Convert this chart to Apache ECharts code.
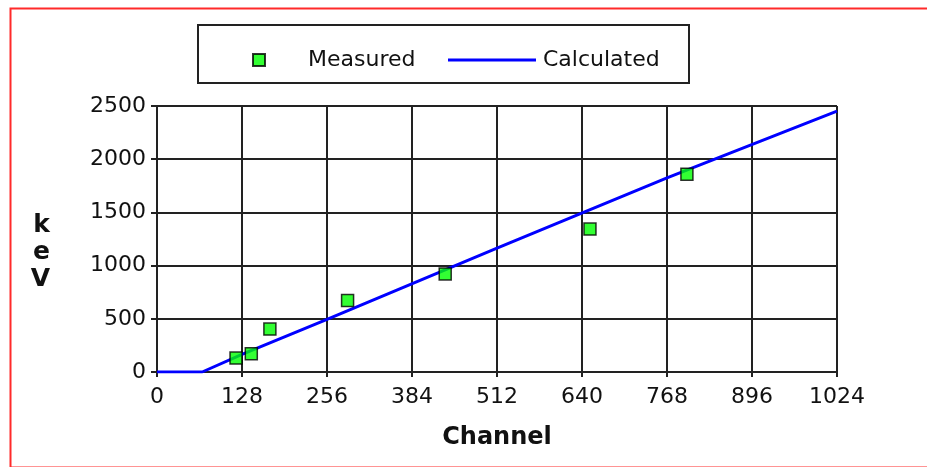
<!DOCTYPE html>
<html>
<head>
<meta charset="utf-8">
<script src="https://cdn.jsdelivr.net/npm/echarts@6/dist/echarts.min.js"></script>
<style>
  html, body { margin: 0; padding: 0; background: #fff; }
  #chart { width: 927px; height: 467px; }
</style>
</head>
<body>
<div id="chart"></div>
<script>
// measured points (channel, keV)
var measuredX = [119, 142, 170, 287, 434, 652, 798];
var measuredY = [131, 172, 403, 671, 921, 1343, 1859];

// calculated calibration curve
var calcX = [0, 68, 128, 256, 512, 768, 1024];
var calcY = [0, 0, 165, 495, 1165, 1825, 2452];

var measured = measuredX.map(function (x, i) { return [x, measuredY[i]]; });
var calculated = calcX.map(function (x, i) { return [x, calcY[i]]; });

var fontName = 'DejaVu Sans';
var chart = echarts.init(document.getElementById('chart'));

function plain(v) { return String(v); }

var option = {
    animation: false,
    backgroundColor: '#fff',
    textStyle: { fontFamily: fontName, color: '#111' },
    grid: { left: 157, right: 90, top: 106, bottom: 95 },
    legend: [{
        data: ['Measured'],
        left: 247,
        top: 44,
        icon: 'rect',
        itemWidth: 12,
        itemHeight: 12,
        textStyle: { fontFamily: fontName, fontSize: 22, color: '#111', padding: [0, 0, 0, 38] }
    }, {
        data: ['Calculated'],
        left: 443,
        top: 44,
        icon: 'rect',
        itemWidth: 88,
        itemHeight: 3,
        textStyle: { fontFamily: fontName, fontSize: 22, color: '#111', padding: [0, 0, 0, 2] }
    }],
    xAxis: {
        type: 'value',
        min: 0,
        max: 1024,
        interval: 128,
        name: 'Channel',
        nameLocation: 'middle',
        nameGap: 54,
        nameTextStyle: { fontFamily: fontName, fontSize: 24, fontWeight: 'bold', color: '#111' },
        axisLine: { show: true, lineStyle: { color: '#222', width: 2 } },
        axisTick: { show: true, length: 5, lineStyle: { color: '#222', width: 2 } },
        axisLabel: { fontSize: 22, color: '#111', margin: 14, formatter: plain },
        splitLine: { show: true, lineStyle: { color: '#222', width: 2 } }
    },
    yAxis: {
        type: 'value',
        min: 0,
        max: 2500,
        interval: 500,
        // blank first line pushes the stacked letters a bit below the middle
        name: '\nk\ne\nV',
        nameLocation: 'middle',
        nameRotate: 0,
        nameGap: 107,
        nameTextStyle: { fontFamily: fontName, fontSize: 25, fontWeight: 'bold', color: '#111', lineHeight: 27 },
        axisLine: { show: true, lineStyle: { color: '#222', width: 2 } },
        axisTick: { show: true, length: 6, lineStyle: { color: '#222', width: 2 } },
        axisLabel: { fontSize: 22, color: '#111', margin: 11, formatter: plain },
        splitLine: { show: true, lineStyle: { color: '#222', width: 2 } }
    },
    graphic: [{
        type: 'rect',
        left: 8, top: 6,
        shape: { width: 1000, height: 459 },
        style: { fill: 'none', stroke: '#ff2a2a', lineWidth: 2 },
        z: 0
    }, {
        type: 'rect',
        left: 197, top: 24,
        shape: { width: 491, height: 58 },
        style: { fill: '#fff', stroke: '#222', lineWidth: 2 },
        z: 0
    }],
    series: [{
        name: 'Calculated',
        type: 'line',
        data: calculated,
        symbol: 'none',
        color: '#0000ff',
        lineStyle: { color: '#0000ff', width: 3 },
        z: 3
    }, {
        name: 'Measured',
        type: 'scatter',
        data: measured,
        symbol: 'rect',
        symbolSize: 12,
        itemStyle: { color: '#00ff00', borderColor: '#000', borderWidth: 1.5 },
        z: 4
    }]
};

chart.setOption(option);
</script>
</body>
</html>
